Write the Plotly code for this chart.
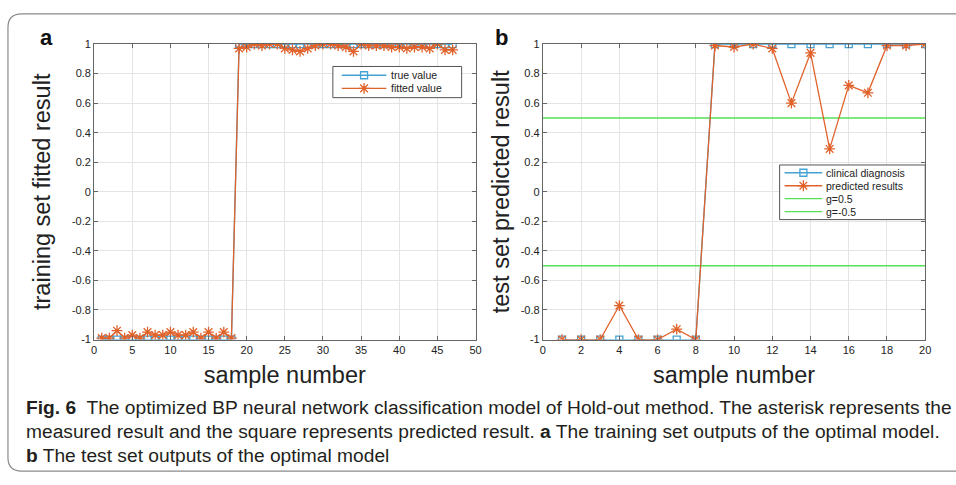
import plotly.graph_objects as go

W, H = 956, 485

# ---------------- data ----------------
train_x = [1, 2, 3, 4, 5, 6, 7, 8, 9, 10, 11, 12, 13, 14, 15, 16, 17, 18,
           19, 20, 21, 22, 23, 24, 25, 26, 27, 28, 29, 30, 31, 32, 33, 34, 35,
           36, 37, 38, 39, 40, 41, 42, 43, 44, 45, 46, 47]
train_true = [-1, -1, -1, -1, -1, -1, -1, -1, -1, -1, -1, -1, -1, -1, -1, -1, -1, -1,
              1, 1, 1, 1, 1, 1, 1, 1, 1, 1, 1, 1, 1, 1, 1, 1, 1,
              1, 1, 1, 1, 1, 1, 1, 1, 1, 1, 1, 1]
train_fit = [-0.99, -0.99, -0.94, -0.99, -0.97, -0.99, -0.95, -0.97, -0.97, -0.95,
             -0.97, -0.97, -0.95, -0.99, -0.95, -0.99, -0.95, -0.99,
             0.97, 0.98, 1.0, 0.99, 1.0, 1.0, 0.97, 0.96, 0.95, 0.97, 0.99, 1.0,
             1.0, 0.99, 0.98, 0.95, 1.0, 0.99, 0.99, 0.99, 0.98, 0.98, 0.97,
             0.98, 0.98, 0.97, 1.0, 0.96, 0.96]

test_x = [1, 2, 3, 4, 5, 6, 7, 8, 9, 10, 11, 12, 13, 14, 15, 16, 17, 18, 19, 20]
test_true = [-1, -1, -1, -1, -1, -1, -1, -1, 1, 1, 1, 1, 1, 1, 1, 1, 1, 1, 1, 1]
test_pred = [-1, -1, -1, -0.77, -1, -1, -0.93, -1, 0.99, 0.98, 1.0, 0.97, 0.6,
             0.94, 0.29, 0.72, 0.67, 0.99, 0.99, 1.0]
g_x = [0, 20]
g_pos = [0.5, 0.5]
g_neg = [-0.5, -0.5]

y_ticks = [-1, -0.8, -0.6, -0.4, -0.2, 0, 0.2, 0.4, 0.6, 0.8, 1]
y_labels = ["-1", "-0.8", "-0.6", "-0.4", "-0.2", "0", "0.2", "0.4", "0.6", "0.8", "1"]
xa_ticks = [0, 5, 10, 15, 20, 25, 30, 35, 40, 45, 50]
xb_ticks = [0, 2, 4, 6, 8, 10, 12, 14, 16, 18, 20]

legend_a_names = ["true value", "fitted value"]
legend_b_names = ["clinical diagnosis", "predicted results", "g=0.5", "g=-0.5"]

caption_lines = [
    "<b>Fig. 6</b>  The optimized BP neural network classification model of Hold-out method. The asterisk represents the",
    "measured result and the square represents predicted result. <b>a</b> The training set outputs of the optimal model.",
    "<b>b</b> The test set outputs of the optimal model",
]

BLUE = "#44a2d4"
ORANGE = "#e0622a"
GREEN = "#55e055"
FONT = "Liberation Sans, Arial, sans-serif"
TXT = "#222222"


def px(x):
    return x / W


def py(y):
    return 1 - y / H


sq_marker = dict(symbol="square-open", size=7, color=BLUE, line=dict(width=1.3, color=BLUE))
ast_marker = dict(symbol="asterisk-open", size=9, color=ORANGE, line=dict(width=1.3, color=ORANGE))

fig = go.Figure()

# panel a
fig.add_trace(go.Scatter(x=train_x, y=train_true, mode="lines+markers", name="true value",
                         line=dict(color=BLUE, width=1.3), marker=sq_marker,
                         xaxis="x", yaxis="y", showlegend=False))
fig.add_trace(go.Scatter(x=train_x, y=train_fit, mode="lines+markers", name="fitted value",
                         line=dict(color=ORANGE, width=1.3), marker=ast_marker,
                         xaxis="x", yaxis="y", showlegend=False))

# panel b
fig.add_trace(go.Scatter(x=g_x, y=g_pos, mode="lines", name="g=0.5",
                         line=dict(color=GREEN, width=1.5), xaxis="x2", yaxis="y2", showlegend=False))
fig.add_trace(go.Scatter(x=g_x, y=g_neg, mode="lines", name="g=-0.5",
                         line=dict(color=GREEN, width=1.5), xaxis="x2", yaxis="y2", showlegend=False))
fig.add_trace(go.Scatter(x=test_x, y=test_true, mode="lines+markers", name="clinical diagnosis",
                         line=dict(color=BLUE, width=1.3), marker=sq_marker,
                         xaxis="x2", yaxis="y2", showlegend=False))
fig.add_trace(go.Scatter(x=test_x, y=test_pred, mode="lines+markers", name="predicted results",
                         line=dict(color=ORANGE, width=1.3), marker=ast_marker,
                         xaxis="x2", yaxis="y2", showlegend=False))


# ------------- MATLAB-style compact legends (pixel overlay axis) -------------
def legend_box(x0, y0, x1, y1, names, styles, first_row, row_h, line_off, line_len, text_off):
    fig.add_trace(go.Scatter(x=[x0, x1, x1, x0, x0], y=[y0, y0, y1, y1, y0], mode="lines",
                             fill="toself", fillcolor="white", line=dict(color="#555555", width=1),
                             xaxis="x3", yaxis="y3", showlegend=False, hoverinfo="skip"))
    for i, (name, st) in enumerate(zip(names, styles)):
        yc = y0 + first_row + row_h * i
        lx0, lx1 = x0 + line_off, x0 + line_off + line_len
        color, marker = st
        fig.add_trace(go.Scatter(x=[lx0, lx1], y=[yc, yc], mode="lines",
                                 line=dict(color=color, width=1.3),
                                 xaxis="x3", yaxis="y3", showlegend=False, hoverinfo="skip"))
        if marker is not None:
            fig.add_trace(go.Scatter(x=[(lx0 + lx1) / 2], y=[yc], mode="markers", marker=marker,
                                     xaxis="x3", yaxis="y3", showlegend=False, hoverinfo="skip"))
        fig.add_annotation(x=x0 + text_off, y=yc, xref="x3", yref="y3", text=name, showarrow=False,
                           xanchor="left", yanchor="middle", font=dict(family=FONT, size=10.5, color=TXT))


legend_box(333, 62, 463, 94, legend_a_names,
           [(BLUE, sq_marker), (ORANGE, ast_marker)], 9, 13.5, 9, 45, 57)
legend_box(784, 163, 931, 219, legend_b_names,
           [(BLUE, sq_marker), (ORANGE, ast_marker), (GREEN, None), (GREEN, None)], 8, 13.3, 5, 38, 45)

axis_common = dict(showline=True, linecolor="#666666", linewidth=1, mirror="ticks",
                   ticks="inside", ticklen=4, tickcolor="#666666",
                   showgrid=True, gridcolor="#e4e4e4", gridwidth=1, zeroline=False,
                   tickfont=dict(family=FONT, size=11, color=TXT))
title_font = dict(family=FONT, size=23.5, color=TXT)

ya_dom = [py(342), py(39)]
fig.update_layout(
    width=W, height=H,
    margin=dict(l=0, r=0, t=0, b=0),
    paper_bgcolor="white", plot_bgcolor="rgba(0,0,0,0)",
    showlegend=False,
    xaxis=dict(domain=[px(92), px(477)], range=[0, 50], tickvals=xa_ticks, anchor="y",
               title=dict(text="sample number", font=title_font, standoff=11), **axis_common),
    yaxis=dict(domain=ya_dom, range=[-1, 1], tickvals=y_ticks, ticktext=y_labels, anchor="x",
               title=dict(text="training set fitted result", font=title_font, standoff=14), **axis_common),
    xaxis2=dict(domain=[px(545), px(931)], range=[0, 20], tickvals=xb_ticks, anchor="y2",
                title=dict(text="sample number", font=title_font, standoff=11), **axis_common),
    yaxis2=dict(domain=ya_dom, range=[-1, 1], tickvals=y_ticks, ticktext=y_labels, anchor="x2",
                title=dict(text="test set predicted result", font=title_font, standoff=4), **axis_common),
    xaxis3=dict(domain=[0, 1], range=[0, W], visible=False, anchor="y3", fixedrange=True),
    yaxis3=dict(domain=[0, 1], range=[H, 0], visible=False, anchor="x3", fixedrange=True),
)

# panel letters
fig.add_annotation(x=px(35), y=py(32), xref="paper", yref="paper", text="<b>a</b>", showarrow=False,
                   font=dict(family=FONT, size=22, color="#111"), xanchor="left", yanchor="middle")
fig.add_annotation(x=px(495), y=py(32), xref="paper", yref="paper", text="<b>b</b>", showarrow=False,
                   font=dict(family=FONT, size=22, color="#111"), xanchor="left", yanchor="middle")

# caption
for i, line in enumerate(caption_lines):
    fig.add_annotation(x=px(21), y=py(412 + 24.5 * i), xref="paper", yref="paper", text=line,
                       showarrow=False, xanchor="left", yanchor="middle",
                       font=dict(family=FONT, size=19.2, color="#231f20"))

# rounded outer frame
r = 14
rx, ry = r / W, r / H
x0, y0 = px(5), py(8)
x1, y1 = 1.01, py(477)
path = (f"M {x1},{y0} L {x0 + rx},{y0} Q {x0},{y0} {x0},{y0 - ry} "
        f"L {x0},{y1 + ry} Q {x0},{y1} {x0 + rx},{y1} L {x1},{y1}")
fig.add_shape(type="path", path=path, xref="paper", yref="paper",
              line=dict(color="#8a8a8a", width=1.2))

fig.write_html("out.html")
